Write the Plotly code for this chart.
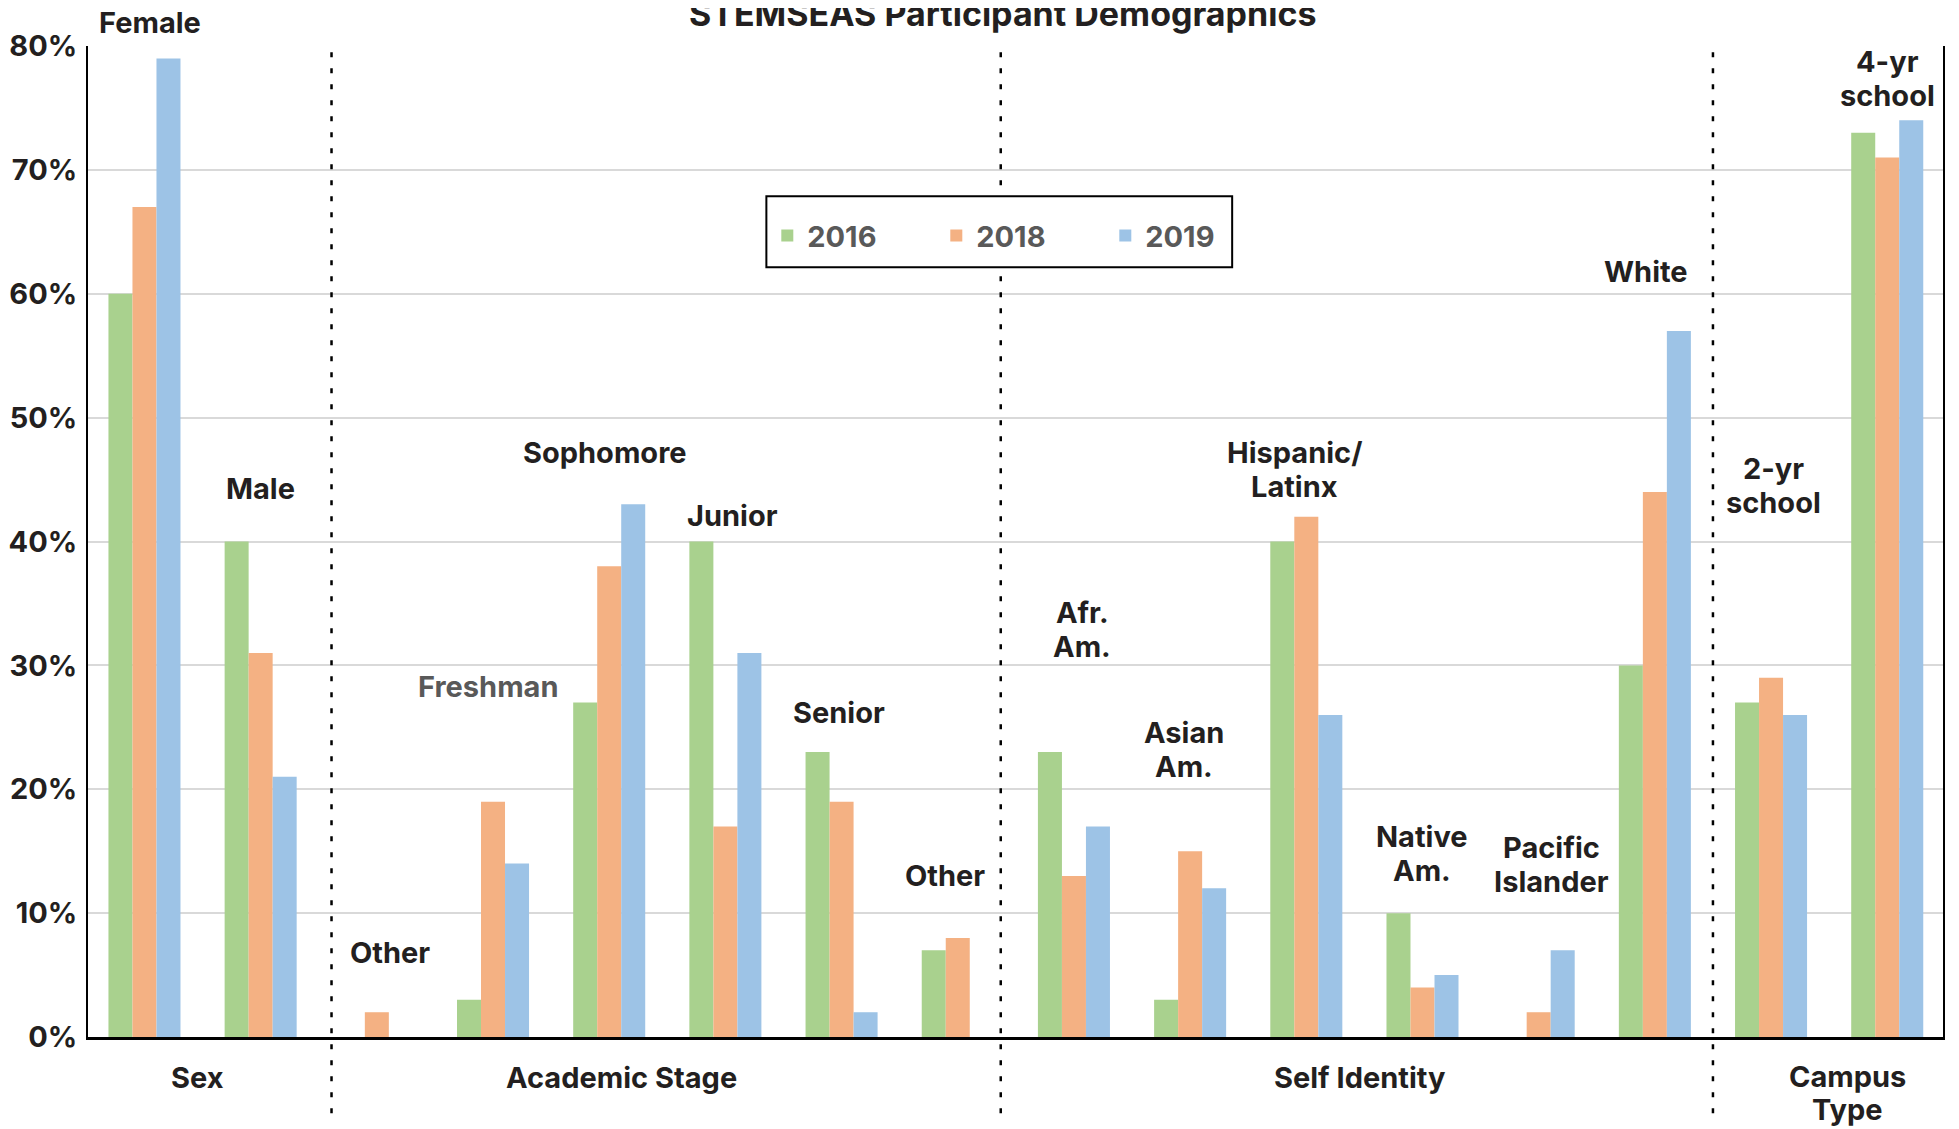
import plotly.graph_objects as go

# ---- data ----
categories = ["Female", "Male",
              "Other", "Freshman", "Sophomore", "Junior", "Senior", "Other",
              "Afr. Am.", "Asian Am.", "Hispanic/Latinx", "Native Am.", "Pacific Islander", "White",
              "2-yr school", "4-yr school"]
years = ["2016", "2018", "2019"]
v2016 = [60, 40, 0, 3, 27, 40, 23, 7, 23, 3, 40, 10, 0, 30, 27, 73]
v2018 = [67, 31, 2, 19, 38, 17, 19, 8, 13, 15, 42, 4, 2, 44, 29, 71]
v2019 = [79, 21, 0, 14, 43, 31, 2, 0, 17, 12, 26, 5, 7, 57, 26, 74]
bar_labels = ["Female", "Male", "Other", "Freshman", "Sophomore", "Junior", "Senior", "Other",
              "Afr.<br>Am.", "Asian<br>Am.", "Hispanic/<br>Latinx", "Native<br>Am.",
              "Pacific<br>Islander", "White", "2-yr<br>school", "4-yr<br>school"]
groups = ["Sex", "Academic Stage", "Self Identity", "Campus<br>Type"]
title = "STEMSEAS Participant Demographics"
ytick_vals = [0, 10, 20, 30, 40, 50, 60, 70, 80]
ytick_text = [f"{v}%" for v in ytick_vals]

# ---- style ----
colors = ["#A9D18E", "#F4B183", "#9DC3E6"]
FONT = "Inter, 'Liberation Sans', Arial, sans-serif"
DARK = "#231f20"
# page body has an 8px margin; compensate so the plot lands where the reference has it
W, H = 1951, 1121
L, R, T, B = 79.5, 16, 37.7, 92
FS = 29
PLOT_H = H - T - B
LINE_PX = 33.7                      # baseline-to-baseline distance of two-line labels
LINE_Y = LINE_PX * 80 / PLOT_H      # same, in y-axis units
LINE_P = LINE_PX / PLOT_H           # same, in paper units

x = list(range(len(categories)))
fig = go.Figure()
for name, vals, c in zip(years, [v2016, v2018, v2019], colors):
    fig.add_trace(go.Bar(x=x, y=vals, name=name, marker=dict(color=c, line=dict(width=0)),
                         hovertext=categories))

annotations = []


def add_label(text, px, py, yref, step, color):
    lines = text.split("<br>")
    n = len(lines)
    for k, ln in enumerate(lines):
        yy = py + (n - 1) / 2 * step - k * step
        annotations.append(dict(x=px, y=yy, xref="x", yref=yref, text=ln, showarrow=False,
                                font=dict(family=FONT, size=FS, color=color, weight="bold"),
                                xanchor="center", yanchor="middle", align="center"))


# label centres (x in axis units, y in axis units; the first one in paper units)
lab_pos = [(0.05, 1.0239), (1.0, 44.3), (2.11, 6.8), (2.96, 28.3), (3.96, 47.2), (5.06, 42.1),
           (5.98, 26.2), (6.89, 13.0), (8.07, 32.9), (8.95, 23.2), (9.9, 45.8), (11.0, 14.8),
           (12.11, 13.9), (12.92, 61.8), (14.02, 44.5), (15.0, 77.4)]
for i, (lab, (px, py)) in enumerate(zip(bar_labels, lab_pos)):
    col = "#595959" if lab == "Freshman" else DARK
    if i == 0:
        add_label(lab, px, py, "paper", LINE_P, col)
    else:
        add_label(lab, px, py, "y", LINE_Y, col)

group_pos = [(0.46, -0.0404), (4.11, -0.0404), (10.46, -0.0404), (14.66, -0.0565)]
for g, (px, py) in zip(groups, group_pos):
    add_label(g, px, py, "paper", LINE_P, DARK)

annotations.append(dict(x=0.4928, y=1.0098, xref="paper", yref="paper", text=title,
                        showarrow=False, xanchor="center", yanchor="bottom",
                        font=dict(family=FONT, size=34, color=DARK, weight="bold")))

shapes = []
for sx in [1.61, 7.37, 13.5]:
    shapes.append(dict(type="line", xref="x", yref="paper", x0=sx, x1=sx, y0=-0.077, y1=1.0,
                       line=dict(color="black", width=2.5, dash="5px,11px"), layer="above"))
shapes.append(dict(type="rect", xref="paper", yref="paper", x0=0.3657, x1=0.6168,
                   y0=0.7768, y1=0.8484, fillcolor="white",
                   line=dict(color="black", width=2), layer="above"))

fig.update_layout(
    width=W, height=H,
    margin=dict(l=L, r=R, t=T, b=B, pad=0, autoexpand=False),
    paper_bgcolor="white", plot_bgcolor="white",
    barmode="group", bargap=0.38, bargroupgap=0,
    showlegend=True,
    legend=dict(orientation="h", x=0.3662, xanchor="left", y=0.8086, yanchor="middle",
                bgcolor="rgba(0,0,0,0)", borderwidth=0, entrywidth=124,
                font=dict(family=FONT, size=FS, color="#595959", weight="bold")),
    xaxis=dict(range=[-0.486, 15.48], showticklabels=False, showgrid=False, zeroline=False,
               showline=True, linecolor="black", linewidth=2.5, ticks="", automargin=False),
    yaxis=dict(range=[0, 80], tickmode="array", tickvals=ytick_vals, ticktext=ytick_text,
               showgrid=True, gridcolor="#d9d9d9", gridwidth=2, zeroline=False, showline=True,
               mirror=True, linecolor="black", linewidth=2, ticks="", automargin=False,
               ticklabelstandoff=3,
               tickfont=dict(family=FONT, size=FS, color=DARK, weight="bold")),
    annotations=annotations, shapes=shapes,
)
fig.write_html("out.html")
